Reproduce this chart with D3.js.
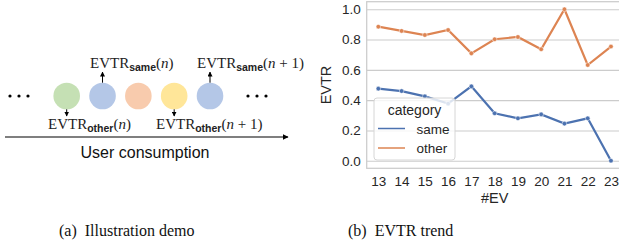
<!DOCTYPE html>
<html lang="en">
<head>
<meta charset="utf-8" />
<script src="https://cdn.jsdelivr.net/npm/d3@7"></script>
<style>
  body { margin: 0; background: #fff; }
  svg text { font-family: "Liberation Sans", Arial, sans-serif; }
  .tick text { font-size: 13.5px; fill: #262626; }
  .math { font-family: "Liberation Serif", "DejaVu Serif", serif; font-size: 15px; fill: #222; }
  .sub { font-family: "Liberation Sans", sans-serif; font-size: 10.5px; font-weight: bold; }
  .caption { font-family: "Liberation Serif", serif; font-size: 16px; fill: #111; }
</style>
</head>
<body>
<script>
// data for panel (b)
var evs = [13, 14, 15, 16, 17, 18, 19, 20, 21, 22, 23];
var same = [0.476, 0.46, 0.425, 0.377, 0.491, 0.313, 0.28, 0.306, 0.245, 0.28, 0.0];
var other = [0.885, 0.857, 0.83, 0.863, 0.709, 0.802, 0.817, 0.736, 1.0, 0.632, 0.754];
var yTicks = [0.0, 0.2, 0.4, 0.6, 0.8, 1.0];
var seriesNames = ["same", "other"];
var seriesColors = ["#4c72b0", "#dd8452"];

// panel (a) items
var bubbleColors = ["#c5e0b4", "#b4c7e7", "#f8cbad", "#ffe699", "#b4c7e7"];

var width = 619, height = 252;
var svg = d3.select("body").append("svg")
    .attr("width", width)
    .attr("height", height);

// ---------- panel (a): illustration ----------
var a = svg.append("g");
var bx = d3.scaleLinear().domain([0, 4]).range([66.7, 210]);
var cy = 96, r = 13.3;

a.append("defs").append("marker")
    .attr("id", "head")
    .attr("viewBox", "0 0 10 10")
    .attr("refX", 9).attr("refY", 5)
    .attr("markerWidth", 5).attr("markerHeight", 5)
    .attr("orient", "auto")
    .append("path").attr("d", "M0,0L10,5L0,10z").attr("fill", "#000");

a.selectAll("circle.bub")
    .data(bubbleColors)
    .enter().append("circle")
    .attr("class", "bub")
    .attr("cx", function (d, i) { return bx(i); })
    .attr("cy", cy)
    .attr("r", r)
    .attr("fill", function (d) { return d; });

// ellipsis dots
[[10, 19, 28], [248, 257, 266]].forEach(function (grp) {
    grp.forEach(function (px) {
        a.append("circle").attr("cx", px).attr("cy", cy).attr("r", 1.6).attr("fill", "#000");
    });
});

// small arrows up (same) and down (other)
function arrow(px, y1, y2) {
    a.append("line")
        .attr("x1", px).attr("x2", px).attr("y1", y1).attr("y2", y2)
        .attr("stroke", "#000").attr("stroke-width", 1)
        .attr("marker-end", "url(#head)");
}
arrow(bx(1), cy - r, 72);
arrow(bx(4), cy - r, 72);
arrow(bx(0), cy + r, 116);
arrow(bx(3), cy + r, 116);

function evtr(px, py, sub, plusOne) {
    var t = a.append("text").attr("class", "math").attr("x", px).attr("y", py);
    t.append("tspan").text("EVTR");
    t.append("tspan").attr("class", "sub").attr("dy", 3).text(sub);
    t.append("tspan").attr("dy", -3).text("(");
    t.append("tspan").style("font-style", "italic").text("n");
    if (plusOne) t.append("tspan").text(" + 1");
    t.append("tspan").text(")");
}
evtr(90, 68, "same", false);
evtr(197, 68, "same", true);
evtr(48, 129, "other", false);
evtr(156, 129, "other", true);

// consumption axis
a.append("line")
    .attr("x1", 5).attr("x2", 288).attr("y1", 137).attr("y2", 137)
    .attr("stroke", "#000").attr("stroke-width", 1.2)
    .attr("marker-end", "url(#head)");
a.append("text")
    .attr("x", 145).attr("y", 158)
    .attr("text-anchor", "middle")
    .style("font-size", "16px")
    .attr("fill", "#111")
    .text("User consumption");

// ---------- panel (b): line chart ----------
var pL = 366.7, pR = 622.6, pT = 1.7, pB = 168.3;
var x = d3.scaleLinear().domain([12.5, 23.5]).range([pL, pR]);
var y = d3.scaleLinear().domain([-0.05, 1.05]).range([pB, pT]);

var plot = svg.append("g");
plot.append("rect")
    .attr("x", pL).attr("y", pT)
    .attr("width", pR - pL).attr("height", pB - pT)
    .attr("fill", "#fff").attr("stroke", "#cccccc").attr("stroke-width", 1.25);

var gy = plot.append("g")
    .attr("transform", "translate(" + pL + ",0)")
    .call(d3.axisLeft(y).tickValues(yTicks).tickFormat(d3.format(".1f"))
        .tickSize(-(pR - pL)).tickPadding(6));
gy.select(".domain").remove();
gy.selectAll(".tick line").attr("stroke", "#cccccc").attr("stroke-width", 1.1);

var gx = plot.append("g")
    .attr("transform", "translate(0," + pB + ")")
    .call(d3.axisBottom(x).tickValues(evs).tickFormat(d3.format("d"))
        .tickSize(0).tickPadding(8));
gx.select(".domain").remove();

svg.append("text")
    .attr("x", x(18)).attr("y", 202.5)
    .attr("text-anchor", "middle")
    .style("font-size", "14.5px").attr("fill", "#262626")
    .text("#EV");
svg.append("text")
    .attr("transform", "translate(331," + y(0.5) + ") rotate(-90)")
    .attr("text-anchor", "middle")
    .style("font-size", "14.5px").attr("fill", "#262626")
    .text("EVTR");

var series = [same, other];
var line = d3.line()
    .x(function (d, i) { return x(evs[i]); })
    .y(function (d) { return y(d); });

series.forEach(function (vals, k) {
    plot.append("path")
        .datum(vals)
        .attr("d", line)
        .attr("fill", "none")
        .attr("stroke", seriesColors[k])
        .attr("stroke-width", 2.2);
    plot.selectAll("circle.s" + k)
        .data(vals)
        .enter().append("circle")
        .attr("class", "s" + k)
        .attr("cx", function (d, i) { return x(evs[i]); })
        .attr("cy", function (d) { return y(d); })
        .attr("r", 2.3)
        .attr("fill", seriesColors[k])
        .attr("stroke", "#fff").attr("stroke-width", 0.5);
});

// legend
var lg = plot.append("g").attr("transform", "translate(374,98)");
lg.append("rect")
    .attr("width", 81).attr("height", 62).attr("rx", 3)
    .attr("fill", "#fff").attr("fill-opacity", 0.8)
    .attr("stroke", "#d6d6d6");
lg.append("text")
    .attr("x", 40.5).attr("y", 16.5).attr("text-anchor", "middle")
    .style("font-size", "14px").attr("fill", "#262626")
    .text("category");
seriesNames.forEach(function (name, k) {
    var yy = 30.5 + k * 19.5;
    lg.append("line")
        .attr("x1", 4).attr("x2", 31).attr("y1", yy).attr("y2", yy)
        .attr("stroke", seriesColors[k]).attr("stroke-width", 1.5);
    lg.append("text")
        .attr("x", 42.5).attr("y", yy + 5)
        .style("font-size", "13.5px").attr("fill", "#262626")
        .text(name);
});

// captions
svg.append("text").attr("class", "caption").attr("x", 59).attr("y", 236).text("(a)\u2002Illustration demo");
svg.append("text").attr("class", "caption").attr("x", 348).attr("y", 236).text("(b)\u2002EVTR trend");
</script>
</body>
</html>
